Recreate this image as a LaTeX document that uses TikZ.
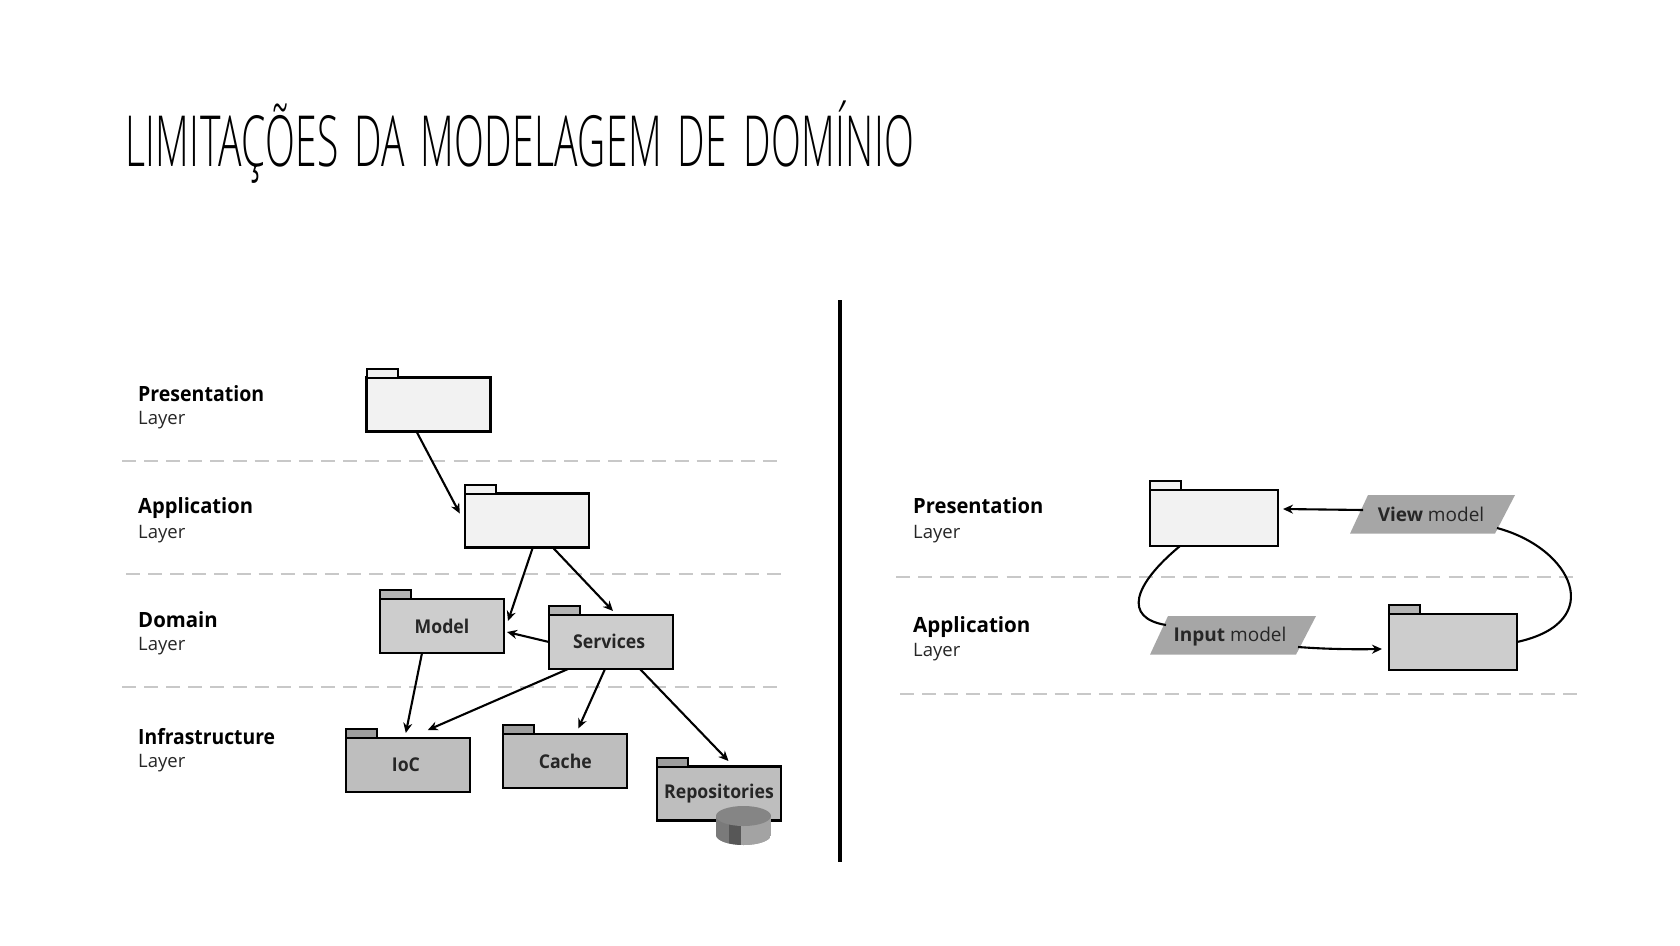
\documentclass[tikz,border=0pt]{standalone}
\usepackage{fontspec}
\setmainfont{Open Sans}
\newfontfamily\titlefont{Open Sans Light}[LetterSpace=1,WordSpace=1.5]
\usetikzlibrary{arrows.meta}
\definecolor{fLight}{HTML}{F2F2F2}
\definecolor{fMid}{HTML}{CDCDCD}
\definecolor{fDark}{HTML}{BEBEBE}
\definecolor{tabMid}{HTML}{B4B4B4}
\definecolor{tabDark}{HTML}{9E9E9E}
\definecolor{paraGray}{HTML}{A6A6A6}
\definecolor{dashGray}{HTML}{C8C8C8}
\newcommand{\pkgfolder}[7]{%
  \node[folderbox,#4,fill=#5] (#1) at (#2,#3) {\scalebox{0.93}[1]{#7}};
  \draw[foldertab,fill=#6] (#1.north west) rectangle ++(31,-9);
}
\newcommand{\layerlabel}[6][0.93]{%
  \node[layerhead] (#2h) at (#3,#4) {\scalebox{#1}[1]{#6}};
  \node[layersub] (#2s) at (#3,#5) {Layer};
}
\tikzset{
  x=1pt,y=-1pt,
  folderbox/.style={draw=black,line width=2.2pt,outer sep=0pt,minimum width=124pt,minimum height=54pt,inner sep=0pt,font=\fontsize{19}{22}\selectfont\bfseries,text=black!85},
  bigfolder/.style={minimum width=128pt,minimum height=56pt},
  foldertab/.style={draw=black,line width=2pt},
  layerhead/.style={anchor=west,inner sep=0pt,font=\fontsize{21}{24}\selectfont\bfseries,text=black},
  layersub/.style={anchor=west,inner sep=0pt,font=\fontsize{18.5}{22}\selectfont,text=black!85},
  sepline/.style={draw=dashGray,line width=2pt,dash pattern=on 14pt off 8.1pt},
  link/.style={draw=black,line width=2.1pt,-{Stealth[length=10pt,width=9pt]}},
  plainlink/.style={draw=black,line width=2.1pt},
  paralabel/.style={inner sep=0pt,font=\fontsize{19}{22}\selectfont,text=black!85},
}
\begin{document}
\begin{tikzpicture}
\useasboundingbox (0,0) rectangle (1680,945);
\fill[white] (0,0) rectangle (1680,945);
% title
\node[anchor=base west,inner sep=0pt,text=black] (title) at (125,166) {\scalebox{0.52}[0.94]{\titlefont\fontsize{75}{80}\selectfont LIMITAÇÕES DA MODELAGEM DE DOMÍNIO}};
% divider
\coordinate (divtop) at (840,300);
\coordinate (divbot) at (840,862);
\draw[line width=3.2pt] (divtop) -- (divbot);
% separators
\coordinate (s1a) at (122,460.5); \coordinate (s1b) at (778,460.5);
\coordinate (s2a) at (126,573.5); \coordinate (s2b) at (782,573.5);
\coordinate (s3a) at (122,686.5); \coordinate (s3b) at (778,686.5);
\coordinate (s4a) at (896,576.5); \coordinate (s4b) at (1578,576.5);
\coordinate (s5a) at (900,693.5); \coordinate (s5b) at (1582,693.5);
\foreach \p/\q in {s1a/s1b,s2a/s2b,s3a/s3b,s4a/s4b,s5a/s5b}{\draw[sepline] (\p) -- (\q);}
% left labels
\layerlabel{lp}{138}{394}{420}{Presentation}
\layerlabel[0.96]{la}{138}{508}{534}{Application}
\layerlabel[0.97]{ld}{138}{620}{646}{Domain}
\layerlabel[0.92]{li}{138}{737}{763}{Infrastructure}
% left folders
\pkgfolder{pres}{428.5}{404.5}{}{fLight}{fLight}{}
\pkgfolder{app}{526.8}{520.5}{}{fLight}{fLight}{}
\pkgfolder{model}{442}{626}{}{fMid}{tabMid}{Model}
\pkgfolder{serv}{611}{642}{}{fMid}{tabMid}{\raisebox{1.5pt}{Services}\hspace*{4pt}}
\pkgfolder{ioc}{407.8}{765}{}{fDark}{tabDark}{\raisebox{-1pt}{IoC}\hspace*{4pt}}
\pkgfolder{cache}{565.3}{761}{}{fDark}{tabDark}{Cache}
\pkgfolder{repo}{719}{793.5}{}{fDark}{tabDark}{Repositories}
% cylinder
\begin{scope}
\clip (716,816) -- (716,835) arc[start angle=180,end angle=360,x radius=27.5pt,y radius=10pt] -- (771,816) -- cycle;
\fill[black!38] (716,800) rectangle (771,850);
\fill[black!52] (716,800) rectangle (729,850);
\fill[black!66] (729,800) rectangle (741,850);
\fill[black!36] (741,800) rectangle (771,850);
\end{scope}
\fill[black!48] (743.5,816) ellipse[x radius=27.5pt,y radius=10pt];
% left connectors
\draw[link] ([xshift=-12pt]pres.south) -- ([xshift=-5pt,yshift=7pt]app.west);
\draw[link] ([xshift=6pt]app.south) -- ([xshift=4pt,yshift=5pt]model.east);
\draw[link] ([xshift=26pt]app.south) -- ([xshift=2pt,yshift=4pt]serv.north);
\draw[link] (serv.west) -- ([xshift=3pt,yshift=-6pt]model.east);
\draw[link] ([xshift=-20pt]model.south) -- ([xshift=-2pt,yshift=5pt]ioc.north);
\draw[link] ([xshift=-43pt]serv.south) -- ([xshift=20pt,yshift=8pt]ioc.north);
\draw[link] ([xshift=-6pt]serv.south) -- ([xshift=13pt,yshift=5.5pt]cache.north);
\draw[link] ([xshift=29pt]serv.south) -- ([xshift=9.5pt,yshift=5.5pt]repo.north);
% right labels
\layerlabel[0.96]{rp}{913}{506}{534}{Presentation}
\layerlabel[0.98]{ra}{913}{627}{652}{Application}
% right folders
\pkgfolder{rpres}{1214}{518}{bigfolder}{fLight}{fLight}{}
\pkgfolder{rapp}{1453}{642}{bigfolder}{fMid}{tabMid}{}
% parallelograms
\fill[paraGray] (1350,533.6) -- (1368,495) -- (1515,495) -- (1495,533.6) -- cycle;
\fill[paraGray] (1150,654.6) -- (1168,616) -- (1316,616) -- (1296,654.6) -- cycle;
\node[paralabel] (view) at (1431,514.5) {\textbf{View} model};
\node[paralabel] (input) at (1230,637) {\textbf{Input} model};
% right connectors
\draw[link] ([xshift=-68pt,yshift=4.5pt]view.center) -- ([xshift=5pt,yshift=9pt]rpres.east);
\draw[plainlink] ([xshift=66pt,yshift=-13.5pt]view.center) .. controls (1572,548) and (1608,622) .. (rapp.east);
\draw[plainlink] ([xshift=-34pt]rpres.south) .. controls (1133,585) and (1123,618) .. ([xshift=-64pt,yshift=12pt]input.center);
\draw[link] ([xshift=68pt,yshift=-10pt]input.center) .. controls (1325,649) and (1350,649.5) .. ([xshift=-7pt,yshift=-7pt]rapp.west);
\end{tikzpicture}
\end{document}
